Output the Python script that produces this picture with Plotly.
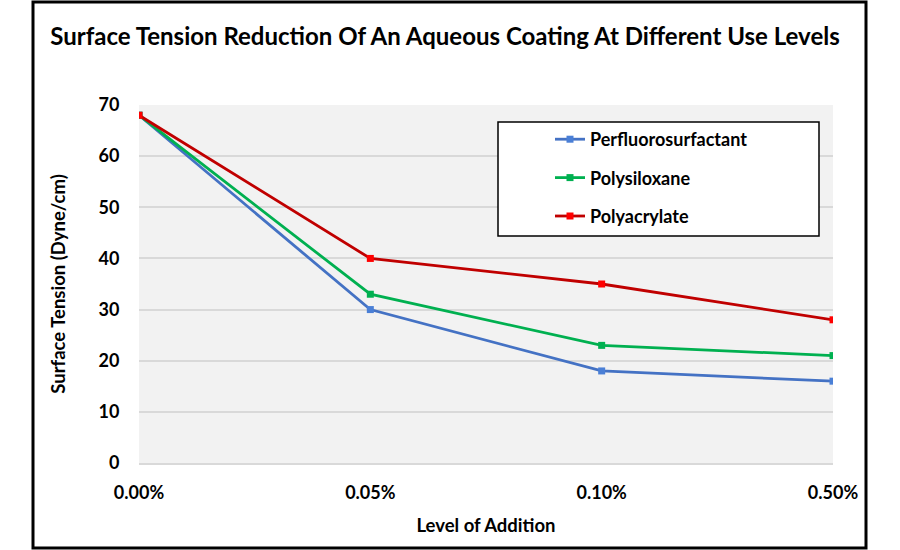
import plotly.graph_objects as go

levels = ["0.00%", "0.05%", "0.10%", "0.50%"]
perfluoro = [68, 30, 18, 16]
polysiloxane = [68, 33, 23, 21]
polyacrylate = [68, 40, 35, 28]

series = [
    ("Perfluorosurfactant", perfluoro, "#4472c4", "#4a7fd6"),
    ("Polysiloxane", polysiloxane, "#00b050", "#00b050"),
    ("Polyacrylate", polyacrylate, "#c00000", "#ff0000"),
]

FONT = "Lato"
fig = go.Figure()
for i, (name, vals, lc, mc) in enumerate(series):
    fig.add_trace(go.Scatter(
        x=levels, y=vals, name=f"<b>{name}</b>", mode="lines+markers",
        line=dict(color=lc, width=2.8),
        marker=dict(symbol="square", size=7, color=mc),
        legendgroup=f"g{i}",
    ))

L, R, T, B = 139, 67, 105, 87
W, H = 900, 550
pw, ph = W - L - R, H - T - B

def px(x):
    return (x - L) / pw

def py(y):
    return (H - B - y) / ph

fig.add_shape(type="rect", xref="paper", yref="paper",
              x0=px(33), x1=px(866), y0=py(548), y1=py(2),
              line=dict(color="black", width=3), fillcolor="rgba(0,0,0,0)", layer="below")
fig.add_shape(type="rect", xref="paper", yref="paper",
              x0=px(498), x1=px(819), y0=py(236), y1=py(122),
              line=dict(color="black", width=1.5), fillcolor="white")

fig.update_layout(
    width=W, height=H,
    margin=dict(l=L, r=R, t=T, b=B),
    paper_bgcolor="white",
    plot_bgcolor="#f2f2f2",
    font=dict(family=FONT, color="black"),
    title=dict(text="<b>Surface Tension Reduction Of An Aqueous Coating At Different Use Levels</b>",
               xref="container", x=445 / W, xanchor="center", y=1 - 37 / H, yanchor="middle",
               font=dict(size=24, family=FONT, color="black")),
    showlegend=True,
    legend=dict(x=px(550), y=py(121), xanchor="left", yanchor="top",
                bgcolor="rgba(0,0,0,0)", borderwidth=0,
                font=dict(size=18, family=FONT, color="black"),
                tracegroupgap=12, itemwidth=30),
    xaxis=dict(type="category", range=[0, 3], showgrid=False,
               showline=True, linecolor="#d9d9d9", linewidth=2,
               ticks="outside", ticklen=12, tickcolor="rgba(0,0,0,0)",
               tickfont=dict(size=18, family=FONT),
               tickprefix="<b>", ticksuffix="</b>",
               title=dict(text="<b>Level of Addition</b>", font=dict(size=18.5, family=FONT), standoff=17),
               zeroline=False),
    yaxis=dict(range=[0, 70], dtick=10, showgrid=True, gridcolor="#d9d9d9", gridwidth=1.5,
               ticks="outside", ticklen=15, tickcolor="rgba(0,0,0,0)",
               tickfont=dict(size=18, family=FONT),
               tickprefix="<b>", ticksuffix="</b>",
               title=dict(text="<b>Surface Tension (Dyne/cm)</b>", font=dict(size=18.5, family=FONT), standoff=28),
               zeroline=False),
)

fig.write_html("out.html", config={"displayModeBar": False},
               post_script="document.body.style.margin='0';")
